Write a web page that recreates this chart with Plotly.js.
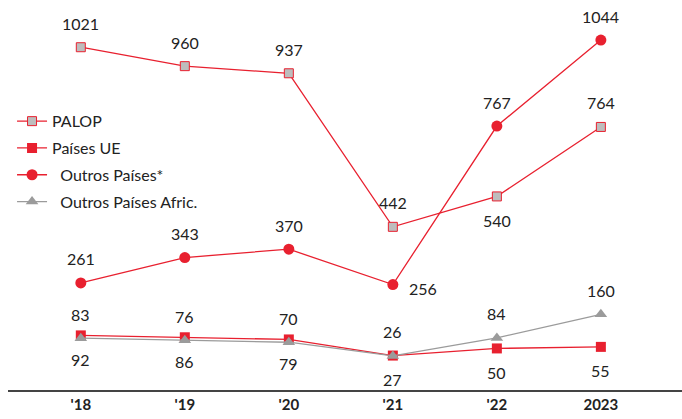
<!DOCTYPE html>
<html><head><meta charset="utf-8">
<script src="https://cdn.plot.ly/plotly-3.0.1.min.js"></script>
<style>html,body{margin:0;padding:0;background:#fff}#c{width:682px;height:419px}</style>
</head><body><div id="c"></div>
<script>
var years = ["'18", "'19", "'20", "'21", "'22", "2023"];
var palop = [1021, 960, 937, 442, 540, 764];
var paisesUE = [92, 86, 79, 27, 50, 55];
var outrosPaises = [261, 343, 370, 256, 767, 1044];
var outrosAfric = [83, 76, 70, 26, 84, 160];

var palopPos = ['t','t','t','t','b','t'];
var outrosPos = ['t','t','t','r','t','t'];
var uePos = ['b','b','b','b','b','b'];
var africPos = ['t','t','t','t','t','t'];

var RED = '#e8202f', GREY = '#9b9b9b';
var traces = [
  {x: years, y: palop, name: 'PALOP', mode: 'lines+markers', legendgroup: 'a',
   line: {color: RED, width: 1.3},
   marker: {symbol: 'square', size: 9, color: '#bdbdbd', line: {color: RED, width: 1}}},
  {x: years, y: paisesUE, name: 'Países UE', mode: 'lines+markers', legendgroup: 'b',
   line: {color: RED, width: 1.3},
   marker: {symbol: 'square', size: 10, color: RED}},
  {x: years, y: outrosPaises, name: '\u00a0\u00a0Outros Países*', mode: 'lines+markers', legendgroup: 'c',
   line: {color: RED, width: 1.3},
   marker: {symbol: 'circle', size: 11, color: RED}},
  {x: years, y: outrosAfric, name: '\u00a0\u00a0Outros Países Afric.', mode: 'lines+markers', legendgroup: 'd',
   line: {color: GREY, width: 1.3},
   marker: {symbol: 'triangle-up', size: 11, color: GREY}}
];

var anns = [];
function addLabels(vals, pos) {
  for (var i = 0; i < vals.length; i++) {
    var a = {x: i, y: vals[i], xref: 'x', yref: 'y', text: String(vals[i]),
      showarrow: false, font: {family: 'Lato, sans-serif', size: 16, color: '#222'}};
    if (pos[i] === 't') { a.yshift = 24; }
    else if (pos[i] === 'b') { a.yshift = -24; }
    else if (pos[i] === 'r') { a.xshift = 30; a.yshift = -4; }
    anns.push(a);
  }
}
addLabels(palop, palopPos);
addLabels(outrosPaises, outrosPos);
addLabels(paisesUE, uePos);
addLabels(outrosAfric, africPos);

var layout = {
  width: 682, height: 419,
  margin: {l: 8, r: 0, t: 10, b: 29},
  paper_bgcolor: '#fff', plot_bgcolor: '#fff',
  showlegend: true,
  legend: {x: 0.006, y: 0.752, xanchor: 'left', yanchor: 'top',
    font: {family: 'Lato, sans-serif', size: 16, color: '#222'},
    bgcolor: 'rgba(0,0,0,0)', tracegroupgap: 3},
  xaxis: {type: 'category', range: [-0.7, 5.78], showgrid: false, zeroline: false,
    showline: true, linecolor: '#444', linewidth: 2, ticks: '',
    tickfont: {family: 'Lato, sans-serif', size: 15, color: '#222', weight: 'bold'}},
  yaxis: {range: [-84, 1141], visible: false, showgrid: false, zeroline: false},
  annotations: anns
};
Plotly.newPlot('c', traces, layout, {displayModeBar: false, staticPlot: true});
</script>
</body></html>
